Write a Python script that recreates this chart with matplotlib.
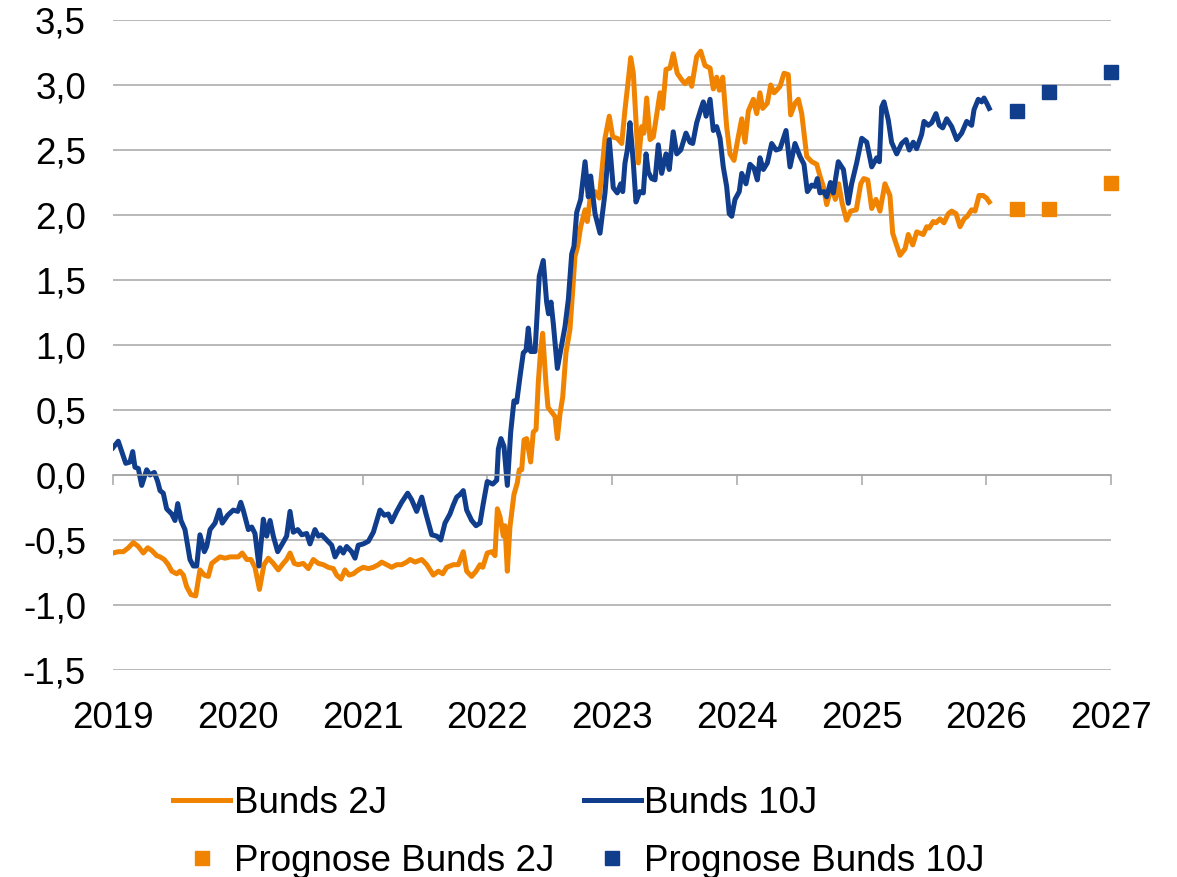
import matplotlib
matplotlib.use("Agg")
import matplotlib.pyplot as plt
from matplotlib.ticker import FuncFormatter

plt.rcParams['font.family'] = ['Liberation Sans', 'DejaVu Sans']

# ---------------- data ----------------
t10 = [2019.000, 2019.042, 2019.070, 2019.102, 2019.136, 2019.158, 2019.176, 2019.203, 2019.230, 2019.270,
       2019.297, 2019.331, 2019.358, 2019.377, 2019.403, 2019.430, 2019.471, 2019.497, 2019.519, 2019.545,
       2019.577, 2019.617, 2019.644, 2019.671, 2019.697, 2019.732, 2019.751, 2019.778, 2019.818, 2019.852,
       2019.876, 2019.919, 2019.964, 2020.000, 2020.024, 2020.044, 2020.085, 2020.112, 2020.138, 2020.170,
       2020.205, 2020.232, 2020.259, 2020.285, 2020.320, 2020.357, 2020.392, 2020.419, 2020.445, 2020.481,
       2020.513, 2020.553, 2020.579, 2020.619, 2020.646, 2020.673, 2020.713, 2020.753, 2020.780, 2020.820,
       2020.846, 2020.873, 2020.913, 2020.940, 2020.966, 2021.006, 2021.047, 2021.087, 2021.140, 2021.175,
       2021.207, 2021.234, 2021.274, 2021.314, 2021.362, 2021.394, 2021.434, 2021.475, 2021.509, 2021.555,
       2021.595, 2021.627, 2021.661, 2021.701, 2021.728, 2021.755, 2021.782, 2021.808, 2021.835, 2021.875,
       2021.910, 2021.942, 2021.968, 2022.000, 2022.044, 2022.076, 2022.089, 2022.110, 2022.134, 2022.161,
       2022.188, 2022.214, 2022.236, 2022.263, 2022.289, 2022.311, 2022.329, 2022.348, 2022.383, 2022.417,
       2022.449, 2022.476, 2022.491, 2022.511, 2022.530, 2022.562, 2022.589, 2022.623, 2022.650, 2022.677,
       2022.695, 2022.717, 2022.749, 2022.784, 2022.810, 2022.829, 2022.864, 2022.904, 2022.944, 2022.978,
       2023.010, 2023.042, 2023.070, 2023.086, 2023.104, 2023.123, 2023.144, 2023.171, 2023.192, 2023.224,
       2023.251, 2023.273, 2023.291, 2023.318, 2023.345, 2023.371, 2023.398, 2023.433, 2023.459, 2023.491,
       2023.519, 2023.551, 2023.593, 2023.625, 2023.647, 2023.679, 2023.711, 2023.732, 2023.754, 2023.786,
       2023.812, 2023.839, 2023.866, 2023.892, 2023.919, 2023.940, 2023.960, 2023.986, 2024.020, 2024.040,
       2024.074, 2024.106, 2024.138, 2024.165, 2024.186, 2024.213, 2024.245, 2024.280, 2024.315, 2024.347,
       2024.395, 2024.427, 2024.467, 2024.507, 2024.539, 2024.566, 2024.601, 2024.627, 2024.646, 2024.667,
       2024.699, 2024.721, 2024.751, 2024.774, 2024.814, 2024.855, 2024.894, 2024.921, 2024.961, 2025.002,
       2025.042, 2025.082, 2025.122, 2025.143, 2025.162, 2025.180, 2025.215, 2025.241, 2025.282, 2025.322,
       2025.357, 2025.383, 2025.415, 2025.442, 2025.482, 2025.501, 2025.535, 2025.563, 2025.597, 2025.624,
       2025.651, 2025.683, 2025.723, 2025.763, 2025.803, 2025.843, 2025.883, 2025.902, 2025.936, 2025.963,
       2025.982, 2026.004, 2026.024]
y10 = [0.21, 0.26, 0.18, 0.09, 0.10, 0.18, 0.06, 0.05, -0.08, 0.04,
       0.00, 0.02, -0.05, -0.12, -0.14, -0.26, -0.30, -0.35, -0.22, -0.35,
       -0.42, -0.65, -0.70, -0.70, -0.46, -0.59, -0.55, -0.42, -0.37, -0.27,
       -0.37, -0.31, -0.27, -0.28, -0.21, -0.27, -0.42, -0.40, -0.45, -0.70,
       -0.34, -0.47, -0.35, -0.47, -0.59, -0.53, -0.47, -0.28, -0.44, -0.42,
       -0.46, -0.45, -0.53, -0.42, -0.47, -0.46, -0.50, -0.54, -0.63, -0.56,
       -0.60, -0.55, -0.59, -0.64, -0.54, -0.53, -0.51, -0.44, -0.27, -0.31,
       -0.30, -0.36, -0.28, -0.21, -0.14, -0.19, -0.28, -0.17, -0.30, -0.46,
       -0.47, -0.50, -0.37, -0.30, -0.23, -0.17, -0.15, -0.12, -0.27, -0.35,
       -0.39, -0.37, -0.22, -0.05, -0.07, -0.04, 0.20, 0.28, 0.22, -0.08,
       0.33, 0.57, 0.56, 0.76, 0.94, 0.96, 1.13, 0.95, 0.95, 1.53,
       1.65, 1.33, 1.24, 1.33, 1.16, 0.82, 0.96, 1.14, 1.35, 1.70,
       1.76, 2.02, 2.12, 2.41, 2.14, 2.30, 2.01, 1.86, 2.17, 2.58,
       2.21, 2.17, 2.24, 2.18, 2.40, 2.50, 2.71, 2.40, 2.10, 2.18,
       2.17, 2.47, 2.33, 2.28, 2.27, 2.54, 2.32, 2.47, 2.35, 2.64,
       2.47, 2.50, 2.63, 2.56, 2.55, 2.71, 2.81, 2.87, 2.76, 2.89,
       2.65, 2.68, 2.59, 2.37, 2.22, 2.01, 1.99, 2.12, 2.18, 2.32,
       2.24, 2.39, 2.36, 2.27, 2.44, 2.35, 2.40, 2.55, 2.50, 2.51,
       2.65, 2.37, 2.55, 2.45, 2.39, 2.18, 2.23, 2.22, 2.28, 2.17,
       2.18, 2.14, 2.25, 2.17, 2.41, 2.35, 2.09, 2.24, 2.40, 2.59,
       2.56, 2.37, 2.44, 2.41, 2.83, 2.87, 2.73, 2.56, 2.47, 2.55,
       2.58, 2.50, 2.56, 2.51, 2.62, 2.72, 2.69, 2.71, 2.78, 2.69,
       2.67, 2.74, 2.68, 2.58, 2.63, 2.72, 2.69, 2.81, 2.89, 2.87,
       2.90, 2.86, 2.82]

t2 = [2019.000, 2019.042, 2019.083, 2019.123, 2019.163, 2019.203, 2019.243, 2019.278, 2019.310, 2019.350,
      2019.377, 2019.411, 2019.443, 2019.471, 2019.511, 2019.537, 2019.564, 2019.591, 2019.625, 2019.663,
      2019.697, 2019.732, 2019.764, 2019.791, 2019.831, 2019.858, 2019.898, 2019.938, 2019.978, 2020.004,
      2020.036, 2020.072, 2020.106, 2020.138, 2020.174, 2020.210, 2020.245, 2020.285, 2020.325, 2020.365,
      2020.392, 2020.419, 2020.453, 2020.485, 2020.525, 2020.566, 2020.606, 2020.646, 2020.686, 2020.726,
      2020.766, 2020.793, 2020.828, 2020.860, 2020.892, 2020.926, 2020.966, 2021.006, 2021.047, 2021.087,
      2021.127, 2021.154, 2021.194, 2021.234, 2021.274, 2021.314, 2021.354, 2021.381, 2021.421, 2021.475,
      2021.515, 2021.568, 2021.608, 2021.643, 2021.675, 2021.728, 2021.768, 2021.808, 2021.835, 2021.875,
      2021.910, 2021.942, 2021.964, 2022.000, 2022.036, 2022.062, 2022.081, 2022.102, 2022.129, 2022.142,
      2022.161, 2022.182, 2022.214, 2022.241, 2022.257, 2022.276, 2022.295, 2022.316, 2022.348, 2022.369,
      2022.391, 2022.409, 2022.428, 2022.444, 2022.471, 2022.487, 2022.511, 2022.543, 2022.562, 2022.583,
      2022.605, 2022.631, 2022.663, 2022.685, 2022.703, 2022.725, 2022.749, 2022.784, 2022.802, 2022.824,
      2022.864, 2022.898, 2022.917, 2022.944, 2022.978, 2023.006, 2023.042, 2023.078, 2023.104, 2023.131,
      2023.150, 2023.171, 2023.192, 2023.211, 2023.238, 2023.256, 2023.278, 2023.305, 2023.331, 2023.358,
      2023.385, 2023.406, 2023.433, 2023.465, 2023.491, 2023.523, 2023.559, 2023.585, 2023.620, 2023.639,
      2023.679, 2023.711, 2023.745, 2023.786, 2023.812, 2023.839, 2023.860, 2023.888, 2023.919, 2023.946,
      2023.978, 2024.012, 2024.040, 2024.066, 2024.093, 2024.133, 2024.160, 2024.186, 2024.208, 2024.245,
      2024.272, 2024.299, 2024.320, 2024.347, 2024.379, 2024.413, 2024.432, 2024.467, 2024.494, 2024.521,
      2024.561, 2024.601, 2024.641, 2024.667, 2024.694, 2024.721, 2024.761, 2024.790, 2024.817, 2024.845,
      2024.880, 2024.913, 2024.958, 2024.994, 2025.018, 2025.050, 2025.082, 2025.116, 2025.148, 2025.188,
      2025.228, 2025.250, 2025.277, 2025.309, 2025.349, 2025.375, 2025.411, 2025.443, 2025.469, 2025.495,
      2025.523, 2025.543, 2025.575, 2025.597, 2025.629, 2025.661, 2025.696, 2025.723, 2025.758, 2025.790,
      2025.822, 2025.848, 2025.883, 2025.910, 2025.942, 2025.974, 2026.002, 2026.024]
y2 = [-0.60, -0.59, -0.59, -0.56, -0.52, -0.55, -0.60, -0.56, -0.58, -0.62,
      -0.63, -0.65, -0.69, -0.74, -0.76, -0.74, -0.77, -0.86, -0.92, -0.93,
      -0.73, -0.77, -0.78, -0.68, -0.65, -0.63, -0.64, -0.63, -0.63, -0.63,
      -0.60, -0.65, -0.65, -0.71, -0.88, -0.69, -0.64, -0.68, -0.73, -0.68,
      -0.65, -0.60, -0.68, -0.69, -0.68, -0.72, -0.65, -0.68, -0.69, -0.71,
      -0.72, -0.77, -0.80, -0.73, -0.77, -0.76, -0.73, -0.71, -0.72, -0.71,
      -0.69, -0.67, -0.69, -0.71, -0.69, -0.69, -0.67, -0.65, -0.67, -0.65,
      -0.69, -0.77, -0.74, -0.76, -0.71, -0.69, -0.69, -0.59, -0.74, -0.78,
      -0.74, -0.69, -0.71, -0.60, -0.59, -0.62, -0.26, -0.32, -0.47, -0.39,
      -0.74, -0.40, -0.15, -0.06, 0.04, 0.04, 0.27, 0.28, 0.10, 0.33,
      0.35, 0.71, 0.96, 1.09, 0.70, 0.52, 0.49, 0.45, 0.28, 0.47,
      0.60, 0.94, 1.12, 1.42, 1.68, 1.76, 1.91, 2.04, 1.95, 2.12,
      2.18, 2.13, 2.32, 2.59, 2.76, 2.60, 2.59, 2.55, 2.81, 3.04,
      3.21, 3.09, 2.73, 2.40, 2.68, 2.63, 2.90, 2.58, 2.60, 2.77,
      2.94, 2.82, 3.12, 3.13, 3.24, 3.09, 3.04, 3.01, 3.05, 2.99,
      3.22, 3.26, 3.15, 3.13, 2.97, 3.06, 2.96, 3.06, 2.68, 2.47,
      2.42, 2.60, 2.74, 2.56, 2.80, 2.89, 2.78, 2.94, 2.82, 2.86,
      3.00, 2.94, 2.96, 2.99, 3.09, 3.08, 2.77, 2.86, 2.89, 2.78,
      2.45, 2.41, 2.39, 2.30, 2.22, 2.08, 2.22, 2.12, 2.24, 2.09,
      1.96, 2.03, 2.04, 2.24, 2.28, 2.27, 2.05, 2.12, 2.03, 2.24,
      2.15, 1.86, 1.78, 1.69, 1.74, 1.85, 1.77, 1.87, 1.86, 1.85,
      1.91, 1.90, 1.95, 1.94, 1.97, 1.94, 2.01, 2.03, 2.01, 1.91,
      1.97, 1.99, 2.04, 2.03, 2.15, 2.15, 2.13, 2.10]

prog_t = [2026.25, 2026.5, 2027.0]
prog_2j = [2.05, 2.05, 2.25]
prog_10j = [2.80, 2.95, 3.10]

year_ticks = list(range(2019, 2028))
y_ticks = [-1.5, -1.0, -0.5, 0.0, 0.5, 1.0, 1.5, 2.0, 2.5, 3.0, 3.5]

ORANGE = '#F08300'
BLUE = '#103D8C'
GRID = '#A6A6A6'
FS = 26.5

# ---------------- figure ----------------
fig = plt.figure(figsize=(11.77, 8.77), dpi=100)
ax = fig.add_axes([113/1177, 1-670/877, (1111-113)/1177, (670-20)/877])

ax.set_xlim(2019, 2027)
ax.set_ylim(-1.5, 3.5)

ax.set_yticks(y_ticks)
ax.yaxis.set_major_formatter(FuncFormatter(lambda v, p: f"{v:.1f}".replace('.', ',')))
ax.tick_params(axis='y', length=0, pad=19.5, labelsize=FS)
ax.grid(axis='y', color=GRID, linewidth=1.1)
ax.set_axisbelow(True)

for s in ['top', 'right', 'left']:
    ax.spines[s].set_visible(False)
ax.spines['bottom'].set_position(('data', 0))
ax.spines['bottom'].set_color(GRID)
ax.spines['bottom'].set_linewidth(1.1)
ax.set_xticks(year_ticks)
ax.tick_params(axis='x', direction='out', length=7, width=1.1, color=GRID, labelbottom=False)

sec = ax.secondary_xaxis('bottom')
sec.set_xticks(year_ticks)
sec.set_xticklabels([str(y) for y in year_ticks])
sec.tick_params(length=0, pad=22, labelsize=FS)
sec.spines['bottom'].set_visible(False)

l2, = ax.plot(t2, y2, color=ORANGE, lw=3.6, solid_joinstyle='round', label='Bunds 2J')
l10, = ax.plot(t10, y10, color=BLUE, lw=3.6, solid_joinstyle='round', label='Bunds 10J')
p2, = ax.plot(prog_t, prog_2j, ls='none', marker='s', ms=10, color=ORANGE, clip_on=False,
              label='Prognose Bunds 2J')
p10, = ax.plot(prog_t, prog_10j, ls='none', marker='s', ms=10, color=BLUE, clip_on=False,
               label='Prognose Bunds 10J')

fig.legend(handles=[l2, p2, l10, p10], labels=[h.get_label() for h in [l2, p2, l10, p10]],
           ncol=2, loc='upper left', bbox_to_anchor=(173/1177, 1-786/877),
           frameon=False, fontsize=FS, handlelength=1.55, handletextpad=0.1,
           columnspacing=0.8, labelspacing=0.62, borderaxespad=0, borderpad=0)

fig.savefig('out.png', dpi=100)
